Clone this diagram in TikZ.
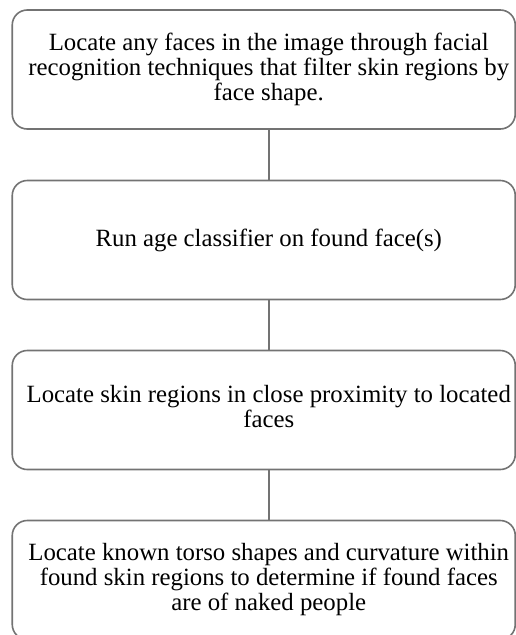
\documentclass[tikz,border=0pt]{standalone}
\usepackage{fontspec}
\setmainfont{Liberation Serif}
\usetikzlibrary{positioning}

\begin{document}
\begin{tikzpicture}[x=1pt,y=1pt]
        \tikzset{stepbox/.style={draw=black!55, line width=1.6pt, rounded corners=15pt,
                minimum width=503pt, minimum height=119pt, inner sep=0pt},
            steptext/.style={align=center, font=\fontsize{24.8}{25}\selectfont, inner sep=0pt, xshift=5pt},
            link/.style={black!55, line width=1.6pt}}
        \useasboundingbox (0,0) rectangle (516,-635);
        
        % boxes
        \node[stepbox] (find) at (263.75,-69.5) {};
        \node[stepbox] (age) at (263.75,-240) {};
        \node[stepbox] (skin) at (263.75,-410) {};
        \node[stepbox] (torso) at (263.75,-580) {};
        
        % texts
        \node[steptext] (findtext) at (find) {Locate any faces in the image through facial\\recognition techniques that filter skin regions by\\face shape.};
        \node[steptext] (agetext) at (age) {Run age classifier on found face(s)};
        \node[steptext, yshift=3pt] (skintext) at (skin) {Locate skin regions in close proximity to located\\faces};
        \node[steptext] (torsotext) at (torso) {Locate known torso shapes and curvature within\\found skin regions to determine if found faces\\are of naked people};
        
        \draw [link] ([xshift=5pt]find.south) -- ([xshift=5pt]age.north);
        \draw [link] ([xshift=5pt]age.south) -- ([xshift=5pt]skin.north);
        \draw [link] ([xshift=5pt]skin.south) -- ([xshift=5pt]torso.north);
        
        \end{tikzpicture}
\end{document}
